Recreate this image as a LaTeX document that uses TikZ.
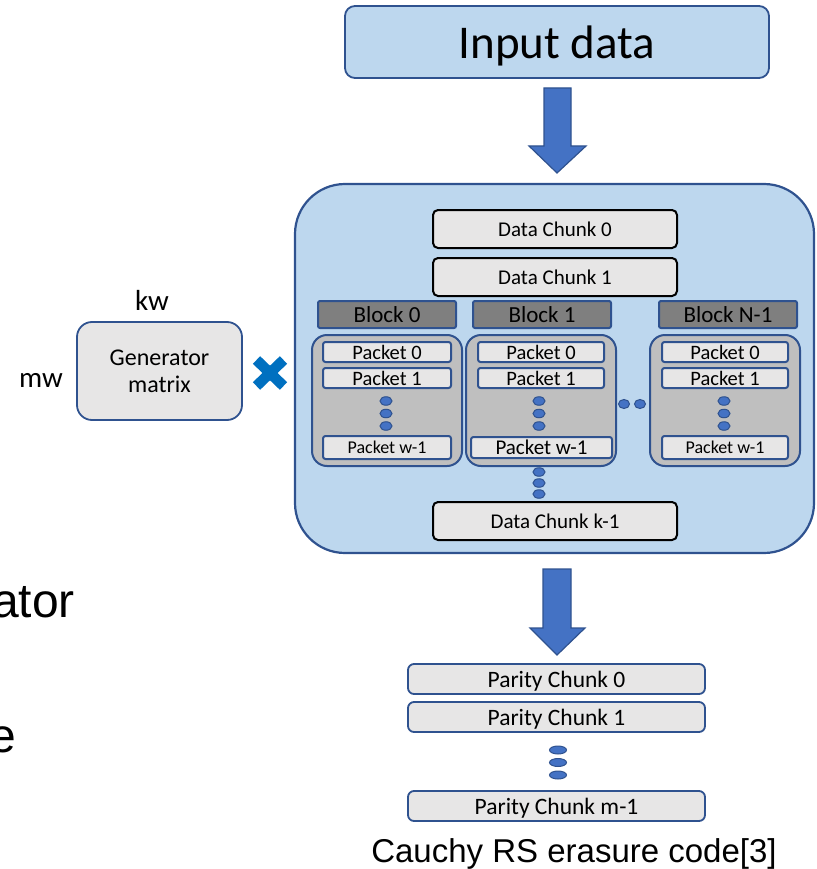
\documentclass[tikz,border=0pt]{standalone}
\usepackage{fontspec}
\setmainfont{Carlito}
\newfontfamily\arialf{Liberation Sans}
\definecolor{lblue}{HTML}{BDD7EE}
\definecolor{dblue}{HTML}{2F528F}
\definecolor{ablue}{HTML}{4472C4}
\definecolor{lgray}{HTML}{E7E6E6}
\definecolor{mgray}{HTML}{BFBFBF}
\definecolor{dgray}{HTML}{7F7F7F}
\definecolor{xblue}{HTML}{0070C0}
\newcommand{\fsz}[1]{\fontsize{#1}{#1}\selectfont}
\usetikzlibrary{shapes.geometric,calc}
\tikzset{
  box/.style={draw, inner sep=0pt, align=center, text depth=0pt},
  inbox/.style={box, draw=dblue, fill=lblue, line width=1.8pt, rounded corners=10pt, font=\fsz{47}},
  panel/.style={box, draw=dblue, fill=lblue, line width=2.2pt, rounded corners=50pt},
  chunk/.style={box, draw=black, fill=lgray, line width=2pt, rounded corners=5pt, font=\fsz{21}},
  blockbox/.style={box, draw=dblue, fill=dgray, line width=2pt, rounded corners=2pt, font=\fsz{23}},
  group/.style={box, draw=dblue, fill=mgray, line width=2pt, rounded corners=15pt},
  packet/.style={box, draw=dblue, fill=lgray, line width=2pt, rounded corners=2.5pt, font=\fsz{20.5}},
  parity/.style={box, draw=dblue, fill=lgray, line width=1.8pt, rounded corners=6pt, font=\fsz{23.5}},
  genbox/.style={draw=dblue, fill=lgray, line width=1.8pt, rounded corners=15pt, inner sep=0pt, align=center, font=\fontsize{24}{27}\selectfont},
  dot/.style={ellipse, draw=dblue, fill=ablue, line width=1pt, inner sep=0pt, minimum width=12pt, minimum height=8.5pt},
  pdot/.style={dot, minimum width=17pt, minimum height=8pt},
  bigarrow/.style={draw=dblue, fill=ablue, line width=1.2pt, line join=miter},
  lbl/.style={inner sep=0pt, font=\fsz{29}},
}
\begin{document}
\begin{tikzpicture}[x=1pt, y=-1pt]
\useasboundingbox (0,0) rectangle (816,869);
\clip (0,0) rectangle (816,869);
% input
\node[inbox, minimum width=424pt, minimum height=72pt] (inp) at (557,42) {Input data};
% arrow 1
\draw[bigarrow] (544,88) -- (571,88) -- (571,146) -- (586,146) -- (557,173) -- (529,146) -- (544,146) -- cycle;
% panel
\node[panel, minimum width=519pt, minimum height=369pt] (panel) at (554.5,368.5) {};
\node[chunk, minimum width=244pt, minimum height=38pt] (dc0) at (555,229) {Data Chunk 0};
\node[chunk, minimum width=244pt, minimum height=38pt] (dc1) at (555,277) {Data Chunk 1};
\node[chunk, minimum width=244pt, minimum height=38pt] (dck) at (555,521) {Data Chunk k-1};
% blocks
\node[blockbox, minimum width=138pt, minimum height=27pt] (b0) at (387,314.5) {Block 0};
\node[blockbox, minimum width=138pt, minimum height=27pt] (b1) at (542,314.5) {Block 1};
\node[blockbox, minimum width=138pt, minimum height=27pt] (bn) at (728,314.5) {Block N-1};
% groups
\node[group, minimum width=150pt, minimum height=131pt] (g0) at (387,400.5) {};
\node[group, minimum width=150pt, minimum height=131pt] (g1) at (541,400.5) {};
\node[group, minimum width=150pt, minimum height=131pt] (gn) at (725,400.5) {};
% packets group 0
\node[packet, minimum width=128pt, minimum height=20pt] (p00) at (387,352) {Packet 0};
\node[packet, minimum width=128pt, minimum height=20pt] (p01) at (387,378) {Packet 1};
\node[packet, minimum width=128pt, minimum height=23pt, font=\fsz{18}] (p0w) at (387,447.5) {Packet w-1};
% packets group 1
\node[packet, minimum width=126pt, minimum height=20pt] (p10) at (541,352) {Packet 0};
\node[packet, minimum width=126pt, minimum height=20pt] (p11) at (541,378) {Packet 1};
\node[packet, minimum width=141pt, minimum height=21pt, font=\fsz{21}] (p1w) at (541.5,447.5) {Packet w-1};
% packets group N-1
\node[packet, minimum width=126pt, minimum height=20pt] (pn0) at (725,352) {Packet 0};
\node[packet, minimum width=126pt, minimum height=20pt] (pn1) at (725,378) {Packet 1};
\node[packet, minimum width=126pt, minimum height=23pt, font=\fsz{18}] (pnw) at (725,447.5) {Packet w-1};
% dots
\node[dot] (d01) at (386,401) {};
\node[dot] (d02) at (386,413.5) {};
\node[dot] (d03) at (386,426) {};
\node[dot] (d11) at (539,401) {};
\node[dot] (d12) at (539,413.5) {};
\node[dot] (d13) at (539,426) {};
\node[dot] (dn1) at (724,401) {};
\node[dot] (dn2) at (724,413.5) {};
\node[dot] (dn3) at (724,426) {};
\node[dot, minimum width=11pt, minimum height=9pt] (dh1) at (624,404) {};
\node[dot, minimum width=11pt, minimum height=9pt] (dh2) at (640,404) {};
\node[dot] (dk1) at (539,472) {};
\node[dot] (dk2) at (539,483) {};
\node[dot] (dk3) at (539,494) {};
% generator
\node[genbox, minimum width=165pt, minimum height=98pt] (gen) at (159.5,371) {Generator\\matrix};
\node[lbl] (kw) at (152,300) {kw};
\node[lbl] (mw) at (41,380) {mw};
% multiply sign
\coordinate (xc) at (270,373);
\draw[xblue, line width=10.5pt] ($(xc)+(-13.5,-13)$) -- ($(xc)+(13.5,13)$);
\draw[xblue, line width=10.5pt] ($(xc)+(13.5,-13)$) -- ($(xc)+(-13.5,13)$);
% arrow 2
\draw[bigarrow] (543,569) -- (571,569) -- (571,628) -- (585,628) -- (557,655) -- (530,628) -- (543,628) -- cycle;
% parity
\node[parity, minimum width=297pt, minimum height=30pt] (pc0) at (556.5,679) {Parity Chunk 0};
\node[parity, minimum width=297pt, minimum height=30pt] (pc1) at (556.5,717) {Parity Chunk 1};
\node[parity, minimum width=297pt, minimum height=30pt] (pcm) at (556.5,806) {Parity Chunk m-1};
\node[pdot] (e1) at (558,750) {};
\node[pdot] (e2) at (558,762.5) {};
\node[pdot] (e3) at (558,775) {};
% captions
\node[inner sep=0pt, anchor=base, font=\arialf\fsz{33}] (cap) at (574,862) {Cauchy RS erasure code[3]};
\node[inner sep=0pt, anchor=base east, font=\arialf\fsz{48}] (ator) at (75,617) {ator};
\node[inner sep=0pt, anchor=base east, font=\arialf\fsz{48}] (ee) at (16,752) {e};
\end{tikzpicture}
\end{document}
